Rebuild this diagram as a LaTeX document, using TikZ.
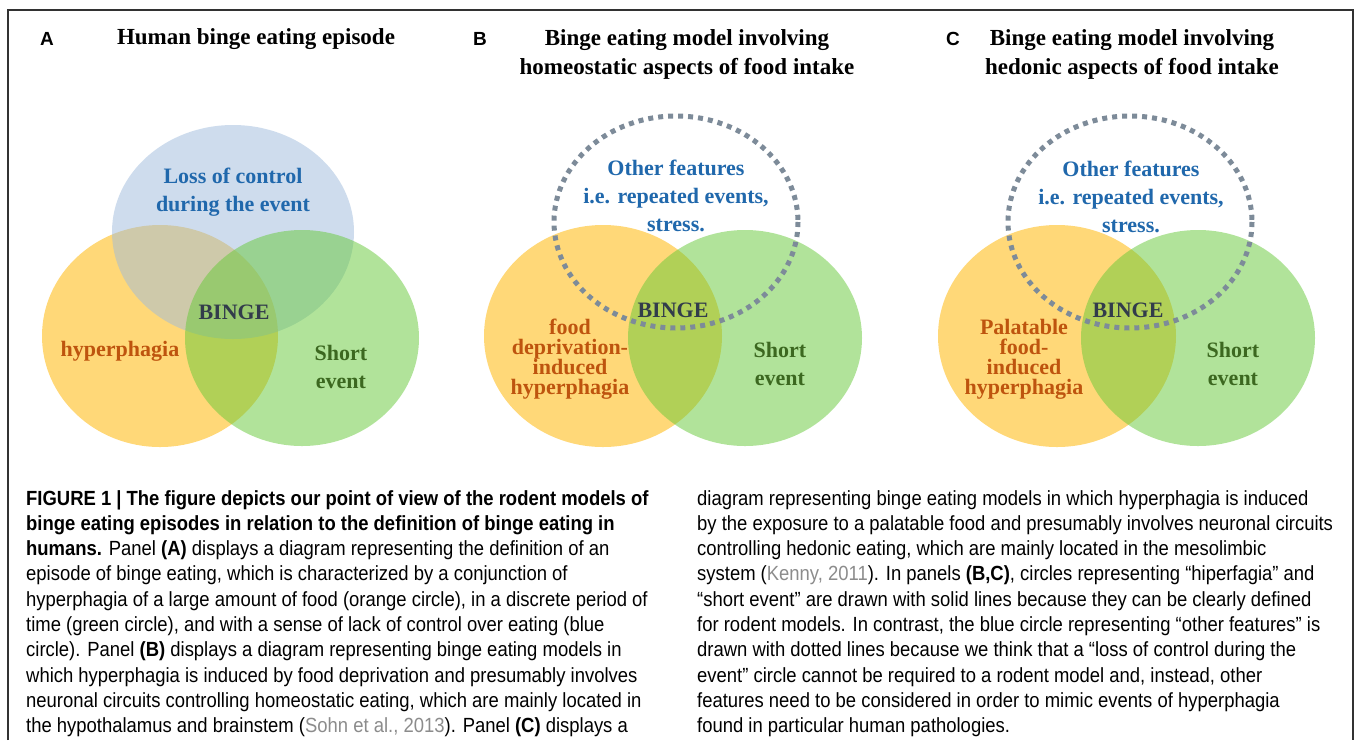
\documentclass[tikz,border=0pt]{standalone}
\usepackage{fontspec}
\setmainfont{Liberation Serif}
\newfontfamily\capfont{Liberation Sans}[FakeStretch=0.9]
\newfontfamily\letfont{Liberation Sans}
\definecolor{orangefill}{RGB}{255,216,120}
\definecolor{bluefill}{RGB}{159,187,221}
\definecolor{greenfill}{RGB}{101,201,55}
\definecolor{dotgray}{RGB}{125,139,153}
\definecolor{bluetext}{RGB}{32,104,172}
\definecolor{orangetext}{RGB}{190,84,14}
\definecolor{greentext}{RGB}{60,104,32}
\definecolor{bingetext}{RGB}{50,60,75}
\definecolor{citegray}{RGB}{140,140,140}
\definecolor{framegray}{RGB}{50,50,50}
\tikzset{
  orangecirc/.style={fill=orangefill},
  bluecirc/.style={fill=bluefill, fill opacity=0.5},
  greencirc/.style={fill=greenfill, fill opacity=0.5},
  dotcirc/.style={draw=dotgray, line width=5pt, dash pattern=on 5pt off 5pt},
  lbl/.style={font=\bfseries\fontsize{22}{28}\selectfont, align=center, inner sep=0pt},
  tightlbl/.style={font=\bfseries\fontsize{22}{20}\selectfont, align=center, inner sep=0pt},
  ttl/.style={font=\bfseries\fontsize{23}{29}\selectfont, align=center, inner sep=0pt},
  letter/.style={font=\letfont\bfseries\fontsize{19}{24}\selectfont, inner sep=0pt},
  capline/.style={font=\capfont\fontsize{20.5}{25}\selectfont, anchor=base west, inner sep=0pt},
}
\begin{document}
\begin{tikzpicture}[x=1pt,y=-1pt]
\useasboundingbox (0,0) rectangle (1355,740);
\fill[white] (0,0) rectangle (1355,740);
\draw[framegray, line width=1.4pt] (8,740) -- (8,10) -- (1353,10) -- (1353,740);

% ---------- Panel A ----------
\node[letter] (la) at (47,39) {A};
\node[ttl] (ta) at (256,39) {Human binge eating episode};
\fill[orangecirc] (160,336) ellipse [x radius=118, y radius=111];
\fill[bluecirc] (233,232) ellipse [x radius=121, y radius=107];
\fill[greencirc] (302,338) ellipse [x radius=117, y radius=108];
\node[lbl, text=bluetext] (loss) at (233,192) {Loss of control\\during the event};
\node[lbl, text=bingetext] (bingea) at (234,312) {BINGE};
\node[lbl, text=orangetext] (hypa) at (120,351) {hyperphagia};
\node[lbl, text=greentext] (shorta) at (341,367) {Short\\event};

% ---------- Panel B ----------
\node[letter] (lb) at (480,39) {B};
\node[ttl] (tb) at (687,54) {Binge eating model involving\\homeostatic aspects of food intake};
\fill[orangecirc] (603,336) ellipse [x radius=119, y radius=111];
\fill[greencirc] (745,338) ellipse [x radius=117, y radius=108];
\draw[dotcirc] (676,222) ellipse [x radius=122, y radius=106];
\node[lbl, text=bluetext] (otherb) at (676,196) {Other features\\i.e. repeated events,\\stress.};
\node[lbl, text=bingetext] (bingeb) at (673,310) {BINGE};
\node[tightlbl, text=orangetext] (hypb) at (570,359) {food\\deprivation-\\induced\\hyperphagia};
\node[lbl, text=greentext] (shortb) at (780,364) {Short\\event};

% ---------- Panel C ----------
\node[letter] (lc) at (953,39) {C};
\node[ttl] (tc) at (1132,54) {Binge eating model involving\\hedonic aspects of food intake};
\fill[orangecirc] (1057,336) ellipse [x radius=119, y radius=111];
\fill[greencirc] (1198,338) ellipse [x radius=117, y radius=108];
\draw[dotcirc] (1130,222) ellipse [x radius=122, y radius=106];
\node[lbl, text=bluetext] (otherc) at (1131,197) {Other features\\i.e. repeated events,\\stress.};
\node[lbl, text=bingetext] (bingec) at (1128,310) {BINGE};
\node[tightlbl, text=orangetext] (hypc) at (1024,359) {Palatable\\food-\\induced\\hyperphagia};
\node[lbl, text=greentext] (shortc) at (1233,364) {Short\\event};

% ---------- Caption, left column ----------
\node[capline] (l1) at (26,505) {\bfseries FIGURE 1 | The figure depicts our point of view of the rodent models of};
\node[capline] (l2) at (26,530.3) {\bfseries binge eating episodes in relation to the definition of binge eating in};
\node[capline] (l3) at (26,555.6) {\textbf{humans.} Panel \textbf{(A)} displays a diagram representing the definition of an};
\node[capline] (l4) at (26,580.9) {episode of binge eating, which is characterized by a conjunction of};
\node[capline] (l5) at (26,606.2) {hyperphagia of a large amount of food (orange circle), in a discrete period of};
\node[capline] (l6) at (26,631.5) {time (green circle), and with a sense of lack of control over eating (blue};
\node[capline] (l7) at (26,656.8) {circle). Panel \textbf{(B)} displays a diagram representing binge eating models in};
\node[capline] (l8) at (26,682.1) {which hyperphagia is induced by food deprivation and presumably involves};
\node[capline] (l9) at (26,707.4) {neuronal circuits controlling homeostatic eating, which are mainly located in};
\node[capline] (l10) at (26,732.7) {the hypothalamus and brainstem ({\color{citegray}Sohn et al., 2013}). Panel \textbf{(C)} displays a};

% ---------- Caption, right column ----------
\node[capline] (r1) at (697,505) {diagram representing binge eating models in which hyperphagia is induced};
\node[capline] (r2) at (697,530.3) {by the exposure to a palatable food and presumably involves neuronal circuits};
\node[capline] (r3) at (697,555.6) {controlling hedonic eating, which are mainly located in the mesolimbic};
\node[capline] (r4) at (697,580.9) {system ({\color{citegray}Kenny, 2011}). In panels \textbf{(B,C)}, circles representing “hiperfagia” and};
\node[capline] (r5) at (697,606.2) {“short event” are drawn with solid lines because they can be clearly defined};
\node[capline] (r6) at (697,631.5) {for rodent models. In contrast, the blue circle representing “other features” is};
\node[capline] (r7) at (697,656.8) {drawn with dotted lines because we think that a “loss of control during the};
\node[capline] (r8) at (697,682.1) {event” circle cannot be required to a rodent model and, instead, other};
\node[capline] (r9) at (697,707.4) {features need to be considered in order to mimic events of hyperphagia};
\node[capline] (r10) at (697,732.7) {found in particular human pathologies.};
\end{tikzpicture}
\end{document}
